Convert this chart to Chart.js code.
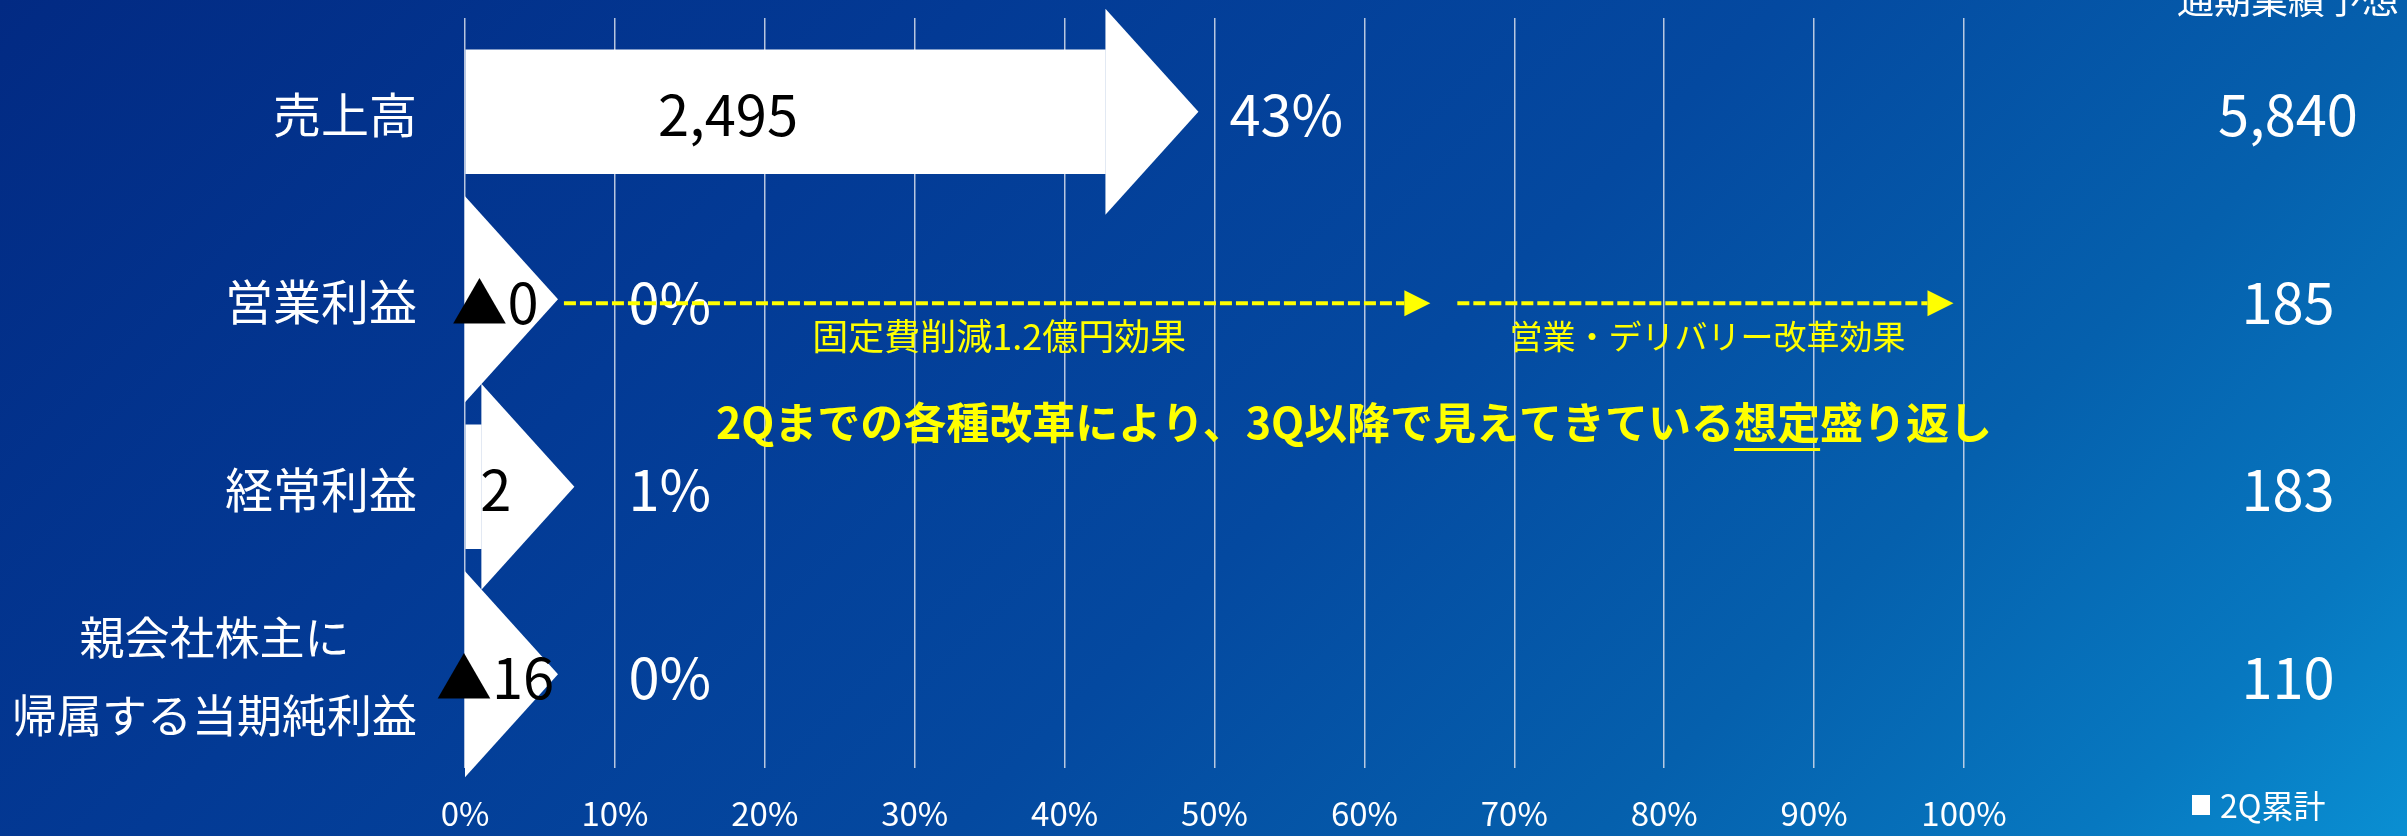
<!DOCTYPE html>
<html lang="ja">
<head>
<meta charset="utf-8">
<title>2Q累計 進捗率</title>
<script src="https://cdn.jsdelivr.net/npm/chart.js@4.4.1/dist/chart.umd.min.js"></script>
<style>
	html, body { margin: 0; padding: 0; }
	body {
		width: 2407px;
		height: 836px;
		overflow: hidden;
		background: linear-gradient(135deg, #022a83 0%, #033a95 30%, #0449a0 55%, #0560ad 75%, #0778c0 90%, #0a8fd2 100%);
	}
	canvas { display: block; }
</style>
</head>
<body>
<canvas id="myChart" width="2407" height="836"></canvas>
<script>
// Data
const categories = [["売上高"], ["営業利益"], ["経常利益"], ["親会社株主に", "帰属する当期純利益"]];
const q2Values = [2495, 0, 2, -16];
const q2Labels = ["2,495", "▲0", "2", "▲16"];
const forecastValues = [5840, 185, 183, 110];
const progressLabels = ["43%", "0%", "1%", "0%"];
const xTicks = [0, 10, 20, 30, 40, 50, 60, 70, 80, 90, 100];
const effectArrows = [
	{ from: 6.6, to: 64.4, label: "固定費削減1.2億円効果" },
	{ from: 66.2, to: 99.3, label: "営業・デリバリー改革効果" },
];
const headline = ["2Qまでの各種改革により、3Q以降で見えてきている", "想定", "盛り返し"];

// progress vs full-year forecast (negative -> 0)
const progress = q2Values.map((v, i) => Math.max(0, (v / forecastValues[i]) * 100));

const FONT = "'Noto Sans CJK JP', 'Noto Sans', sans-serif";

function font(size, weight) {
	return (weight || "normal") + " " + size + "px " + FONT;
}

// Arrow heads, labels and notes
const arrowPlugin = {
	id: "arrowPlugin",
	afterDatasetsDraw(chart) {
		const ctx = chart.ctx;
		const xs = chart.scales.x;
		const ys = chart.scales.y;
		const area = chart.chartArea;
		const bars = chart.getDatasetMeta(0).data;
		ctx.save();

		// heads
		ctx.fillStyle = "#ffffff";
		bars.forEach((bar) => {
			ctx.beginPath();
			ctx.moveTo(bar.x, bar.y - 103);
			ctx.lineTo(bar.x + 93, bar.y);
			ctx.lineTo(bar.x, bar.y + 103);
			ctx.closePath();
			ctx.fill();
		});

		ctx.textBaseline = "middle";

		// category labels
		ctx.fillStyle = "#ffffff";
		bars.forEach((bar, i) => {
			const lines = categories[i];
			ctx.font = font(lines.length > 1 ? 45 : 48);
			const widest = Math.max(...lines.map((l) => ctx.measureText(l).width));
			const cx = area.left - 48 - widest / 2;
			ctx.textAlign = "center";
			lines.forEach((l, j) => {
				ctx.fillText(l, cx, bar.y + 3 + (j - (lines.length - 1) / 2) * 78);
			});
		});

		// 2Q values (inside the arrows)
		ctx.font = font(56);
		ctx.textAlign = "center";
		ctx.fillStyle = "#000000";
		bars.forEach((bar, i) => {
			const w = bar.x - bar.base;
			const cx = w > 200 ? bar.base + w * 0.41 : bar.base + 30;
			ctx.fillText(q2Labels[i], cx, bar.y + 3);
		});

		// progress %
		ctx.fillStyle = "#ffffff";
		ctx.textAlign = "left";
		bars.forEach((bar, i) => {
			const lx = Math.max(bar.x + 93 + 31, xs.getPixelForValue(10.9));
			ctx.fillText(progressLabels[i], lx, bar.y + 3);
		});

		// full-year forecast column
		ctx.textAlign = "center";
		bars.forEach((bar, i) => {
			ctx.fillText(forecastValues[i].toLocaleString("en-US"), area.right + 324, bar.y + 3);
		});
		ctx.font = font(37);
		ctx.fillText("通期業績予想", area.right + 324, 0);

		// legend
		ctx.fillRect(2192, 795, 18, 20);
		ctx.font = font(32);
		ctx.textAlign = "left";
		ctx.fillText("2Q累計", 2220, 806);

		// yellow dashed effect arrows
		const ay = ys.getPixelForValue(1) + 4;
		ctx.strokeStyle = "#ffff00";
		ctx.fillStyle = "#ffff00";
		ctx.lineWidth = 4;
		effectArrows.forEach((a, i) => {
			const x0 = xs.getPixelForValue(a.from);
			const x1 = xs.getPixelForValue(a.to);
			ctx.setLineDash([12, 4]);
			ctx.beginPath();
			ctx.moveTo(x0, ay);
			ctx.lineTo(x1 - 26, ay);
			ctx.stroke();
			ctx.setLineDash([]);
			ctx.beginPath();
			ctx.moveTo(x1 - 26, ay - 13);
			ctx.lineTo(x1, ay);
			ctx.lineTo(x1 - 26, ay + 13);
			ctx.closePath();
			ctx.fill();
			ctx.font = font(i === 0 ? 36 : 33);
			ctx.textAlign = "center";
			ctx.fillText(a.label, (x0 + x1) / 2 + 2, ay + 33);
		});

		// headline with underline
		ctx.font = font(43, "bold");
		const hy = ys.getPixelForValue(1.66);
		const widths = headline.map((t) => ctx.measureText(t).width);
		const total = widths.reduce((s, w) => s + w, 0);
		let hx = 1354 - total / 2;
		ctx.textAlign = "left";
		headline.forEach((t, i) => {
			ctx.fillText(t, hx, hy);
			if (i === 1) {
				ctx.fillRect(hx, hy + 25, widths[i], 3);
			}
			hx += widths[i];
		});

		ctx.restore();
	},
};

// Chart
var ctx = document.getElementById("myChart").getContext("2d");
Chart.defaults.font.family = FONT;
var myChart = new Chart(ctx, {
	type: "bar",
	data: {
		labels: categories,
		datasets: [
			{
				label: "2Q累計",
				data: progress,
				backgroundColor: "#ffffff",
				borderWidth: 0,
				barThickness: 124,
			},
		],
	},
	options: {
		indexAxis: "y",
		responsive: false,
		animation: false,
		layout: {
			padding: { left: 465, right: 443, top: 18, bottom: 0 },
		},
		plugins: {
			legend: { display: false },
			tooltip: { enabled: false },
		},
		scales: {
			x: {
				min: 0,
				max: 100,
				afterBuildTicks: (scale) => {
					scale.ticks = xTicks.map((v) => ({ value: v }));
				},
				afterFit: (scale) => {
					scale.height = 68;
				},
				grid: {
					color: "rgba(215, 222, 236, 0.85)",
					lineWidth: 1.5,
					drawTicks: false,
				},
				border: { display: false },
				ticks: {
					color: "#ffffff",
					font: { size: 33 },
					padding: 26,
					callback: (v) => v + "%",
				},
			},
			y: {
				display: false,
			},
		},
	},
	plugins: [arrowPlugin],
});
</script>
</body>
</html>
